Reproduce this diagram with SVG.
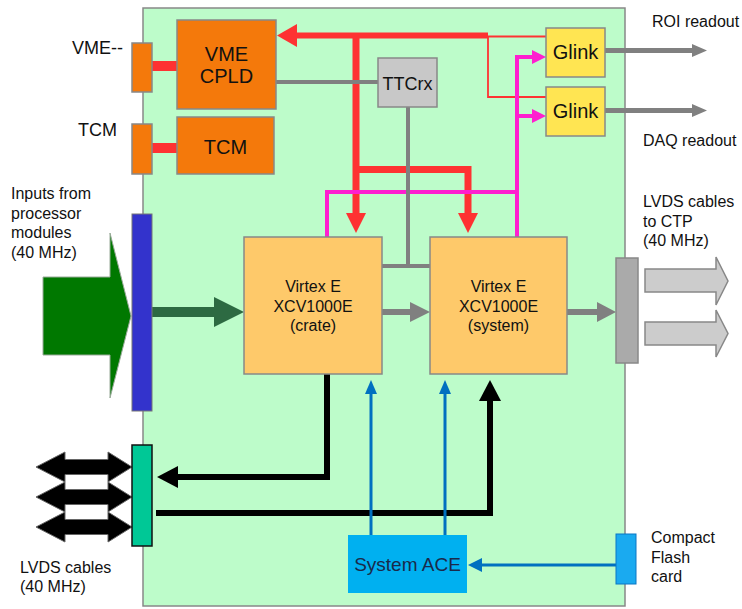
<svg xmlns="http://www.w3.org/2000/svg" width="742" height="609" viewBox="0 0 742 609">
<style>
text{font-family:"Liberation Sans",Arial,sans-serif;fill:#111;}
.lbl{font-size:16px;}
.box{stroke:#888;stroke-width:1.5;}
.org{fill:#f4790b;}
.vx{fill:#fec96a;}
.red{stroke:#fe3232;fill:none;}
.mag{stroke:#fe1fcf;fill:none;stroke-width:4;}
.gry{stroke:#808080;fill:none;}
.blk{stroke:#000;fill:none;stroke-width:6;}
.blu{stroke:#0070c0;fill:none;stroke-width:3;}
</style>
<rect width="742" height="609" fill="#fff"/>
<g id="board"><rect x="143" y="8" width="482" height="598" fill="#bdfcca" stroke="#888" stroke-width="1.5"/></g>

<g id="connectors">
<!-- red bus -->
<path class="red" stroke-width="6" d="M488,35.5 H294"/>
<polygon points="277,35.5 297,24 297,47" fill="#fe3232"/>
<path class="red" stroke-width="1.8" d="M488,36.5 H546 M488,36 V97 H546"/>
<path class="red" stroke-width="7" d="M356,33 V214"/>
<polygon points="346,213 366,213 356,233" fill="#fe3232"/>
<path class="red" stroke-width="7" d="M356,169.5 H468 V214"/>
<polygon points="458,213 478,213 468,233" fill="#fe3232"/>
<path class="red" stroke-width="10" d="M152,66 H177 M152,148 H177"/>
<!-- magenta -->
<path class="mag" d="M327,237 V192 H517 M517,237 V57 H534 M517,116 H534"/>
<polygon points="546,57 532,50 532,64" fill="#fe1fcf"/>
<polygon points="546,116 532,109 532,123" fill="#fe1fcf"/>
<!-- gray -->
<path class="gry" stroke-width="4" d="M276,82 H378 M408,107 V266 M382,266 H430"/>
<path class="gry" stroke-width="5" d="M605,50.5 H694 M605,110.5 H694"/>
<polygon points="707,50.5 692,44 692,57" fill="#808080"/>
<polygon points="707,110.5 692,104 692,117" fill="#808080"/>
<path class="gry" stroke-width="6" d="M382,312 H412 M567,312 H599"/>
<polygon points="430,312 410,302 410,322" fill="#808080"/>
<polygon points="616,312 597,302 597,322" fill="#808080"/>
<!-- dark green -->
<path stroke="#2d6a42" stroke-width="10" fill="none" d="M152,312 H216"/>
<polygon points="244,312 214,297 214,327" fill="#2d6a42"/>
<!-- black -->
<path class="blk" d="M327,374 V477 H176"/>
<polygon points="157,477 178,466 178,488" fill="#000"/>
<path class="blk" d="M156,513 H490 V398"/>
<polygon points="490,380 479,401 501,401" fill="#000"/>
<!-- blue -->
<path class="blu" d="M371,535 V392 M445,535 V392 M616,565 H480"/>
<polygon points="371,380 365,394 377,394" fill="#0070c0"/>
<polygon points="445,380 439,394 451,394" fill="#0070c0"/>
<polygon points="468,565 482,558 482,572" fill="#0070c0"/>
</g>

<g id="vme-conn"><rect class="box org" x="132" y="43" width="20" height="49"/><text x="72" y="54" font-size="18">VME--</text></g>
<g id="tcm-conn"><rect class="box org" x="132" y="124" width="20" height="50"/><text x="78" y="136" font-size="18">TCM</text></g>
<g id="vme-cpld"><rect class="box org" x="177" y="20" width="99" height="89"/>
<text x="226.5" y="61" font-size="20" text-anchor="middle">VME</text><text x="226.5" y="83" font-size="20" text-anchor="middle">CPLD</text></g>
<g id="tcm"><rect class="box org" x="177" y="117" width="97" height="57"/><text x="225.5" y="154" font-size="20" text-anchor="middle">TCM</text></g>
<g id="ttcrx"><rect class="box" fill="#c8c8c8" x="378" y="58" width="59" height="49"/><text x="407.5" y="90" font-size="18" text-anchor="middle">TTCrx</text></g>
<g id="glink1"><rect class="box" fill="#ffe552" x="546" y="28" width="59" height="49"/><text x="575.5" y="59" font-size="20" text-anchor="middle">Glink</text></g>
<g id="glink2"><rect class="box" fill="#ffe552" x="546" y="87" width="59" height="49"/><text x="575.5" y="118" font-size="20" text-anchor="middle">Glink</text></g>
<g id="roi"><text class="lbl" x="652" y="27">ROI readout</text></g>
<g id="daq"><text class="lbl" x="643" y="146">DAQ readout</text></g>

<g id="inputs">
<polygon points="43,277 110,277 110,233 131,316 110,398 110,355 43,355" fill="#007800" stroke="#9a9" stroke-width="1"/>
<text class="lbl" x="11" y="199">Inputs from</text><text class="lbl" x="11" y="218.5">processor</text><text class="lbl" x="11" y="238">modules</text><text class="lbl" x="11" y="257.5">(40 MHz)</text>
</g>
<g id="input-conn"><rect x="132" y="214" width="20" height="197" fill="#3333cc" stroke="#777" stroke-width="1"/></g>

<g id="virtex-crate"><rect class="box vx" x="244" y="237" width="138" height="137"/>
<text class="lbl" x="313" y="292" text-anchor="middle">Virtex E</text><text class="lbl" x="313" y="312" text-anchor="middle">XCV1000E</text><text class="lbl" x="313" y="331" text-anchor="middle">(crate)</text></g>
<g id="virtex-system"><rect class="box vx" x="430" y="237" width="137" height="137"/>
<text class="lbl" x="498.5" y="292" text-anchor="middle">Virtex E</text><text class="lbl" x="498.5" y="312" text-anchor="middle">XCV1000E</text><text class="lbl" x="498.5" y="331" text-anchor="middle">(system)</text></g>

<g id="ctp-conn"><rect x="616" y="258" width="22" height="105" fill="#aaaaaa" stroke="#888" stroke-width="1.5"/>
<polygon points="645,269 716,269 716,257 728,281 716,305 716,292 645,292" fill="#cccccc" stroke="#888" stroke-width="1.5"/>
<polygon points="645,322 716,322 716,310 728,333.5 716,357 716,345 645,345" fill="#cccccc" stroke="#888" stroke-width="1.5"/>
<text class="lbl" x="643" y="207">LVDS cables</text><text class="lbl" x="643" y="227">to CTP</text><text class="lbl" x="643" y="246">(40 MHz)</text></g>

<g id="lvds-conn">
<g fill="#000" stroke="#666" stroke-width="1">
<polygon points="36,467 65,452 65,459.5 108,459.5 108,452 132,467 108,482 108,474.5 65,474.5 65,482"/>
<polygon points="36,497 65,482 65,489.5 108,489.5 108,482 132,497 108,512 108,504.5 65,504.5 65,512"/>
<polygon points="36,527 65,512 65,519.5 108,519.5 108,512 132,527 108,542 108,534.5 65,534.5 65,542"/>
</g>
<rect x="132" y="445" width="20" height="101" fill="#00c896" stroke="#111" stroke-width="1.5"/>
<text class="lbl" x="20" y="572.5">LVDS cables</text><text class="lbl" x="20" y="592">(40 MHz)</text></g>

<g id="system-ace"><rect x="348" y="535" width="119" height="58" fill="#00b0f0"/><text x="407.5" y="571" font-size="19" text-anchor="middle" style="fill:#1a2a4a">System ACE</text></g>
<g id="cf"><rect x="616" y="534" width="20" height="50" fill="#1aaaf0" stroke="#0a77c4" stroke-width="1"/>
<text class="lbl" x="651" y="542.5">Compact</text><text class="lbl" x="651" y="562.5">Flash</text><text class="lbl" x="651" y="582">card</text></g>
</svg>
